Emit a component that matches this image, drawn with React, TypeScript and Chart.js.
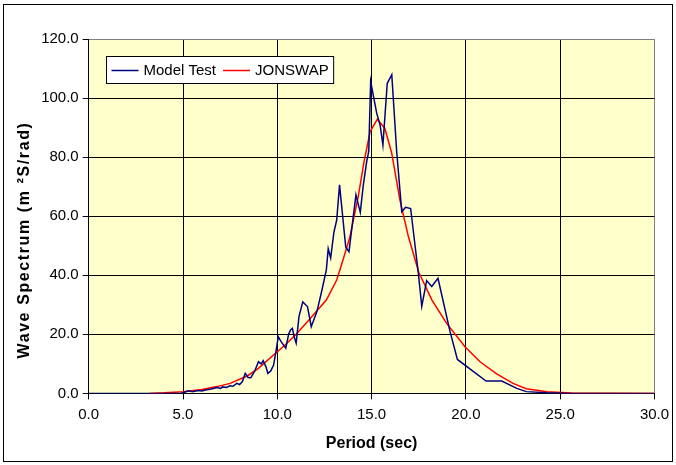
import React, { useEffect, useRef } from "react";
import { Chart, registerables } from "chart.js";

Chart.register(...registerables);

// Measured wave spectrum (model test) — period in seconds, spectral density in m²s/rad
const modelPeriod = [
  0, 4.9, 5.0, 5.3, 5.5, 5.8, 6.0, 6.25, 6.5, 6.8, 7.0, 7.1, 7.3, 7.5, 7.65, 7.85, 8.0, 8.15,
  8.3, 8.45, 8.6, 8.8, 9.0, 9.15, 9.25, 9.4, 9.5, 9.65, 9.8, 9.95, 10.05, 10.2, 10.45, 10.6,
  10.7, 10.8, 10.9, 11.0, 11.15, 11.35, 11.6, 11.8, 12.1, 12.35, 12.6, 12.7, 12.83, 13.0,
  13.15, 13.3, 13.63, 13.8, 14.17, 14.4, 14.56, 14.74, 14.85, 14.95, 15.27, 15.45, 15.6,
  15.83, 16.07, 16.33, 16.6, 16.8, 17.07, 17.47, 17.66, 17.92, 18.19, 18.52, 19.16, 19.55,
  20.3, 21.07, 21.9, 22.7, 23.2, 24.3, 25.5, 30,
];
const modelSpectrum = [
  0, 0, 0.2, 0.9, 0.6, 1.0, 0.8, 1.2, 1.5, 2.0, 1.7, 2.2, 2.0, 2.6, 2.4, 3.4, 3.0, 4.0,
  6.8, 5.4, 5.3, 7.5, 10.7, 10.0, 11.1, 9.0, 6.8, 7.6, 9.5, 15.0, 19.2, 17.5, 15.3, 20.0,
  21.5, 22.0, 19.0, 17.0, 26.0, 31.0, 29.4, 22.6, 27.7, 34.5, 41.8, 49.0, 45.8, 54.5,
  58.7, 70.6, 49.5, 48.0, 67.2, 61.3, 70.5, 78.5, 82.0, 105.6, 94.9, 90.9, 84.1,
  105.0, 107.9, 81.9, 61.5, 63.0, 62.6, 41.2, 29.5, 38.2, 36.2, 39.0, 20.9, 11.5,
  7.9, 4.2, 4.2, 1.7, 0.6, 0.2, 0, 0,
];

// Fitted JONSWAP spectrum
const jonswapPeriod = [
  3.2, 4.0, 5.0, 6.0, 6.8, 7.5, 8.4, 9.0, 9.8, 10.4, 11.0, 11.7, 12.6, 13.15, 13.45, 13.85,
  14.3, 14.6, 14.92, 15.3, 15.7, 16.07, 16.5, 16.95, 17.5, 18.2, 18.98, 19.95, 20.75, 21.63,
  22.5, 23.2, 24.3, 25.6, 30,
];
const jonswapSpectrum = [
  0, 0.2, 0.6, 1.3, 2.3, 3.4, 5.9, 8.5, 13.0, 16.3, 20.0, 25.0, 31.6, 38.4, 44.5, 53.0,
  67.0, 78.5, 88.6, 92.8, 89.8, 81.3, 65.5, 53.1, 41.0, 31.6, 23.7, 15.8, 10.7, 6.6,
  3.4, 1.6, 0.6, 0.15, 0,
];

const seriesNames = ["Model Test", "JONSWAP"];
const seriesColors = ["#000080", "#FF0000"];

const xTitle = "Period (sec)";
const yTitle = "Wave Spectrum (m \u00B2S/rad)";

const FONT = "'Liberation Sans', Arial, sans-serif";

const toPoints = (xs: number[], ys: number[]) => xs.map((x, i) => ({ x, y: ys[i] }));

// Pale yellow plot area plus the outer frame of the whole chart
const frameAndBackground = {
  id: "frameAndBackground",
  beforeDraw(chart: any) {
    const { ctx, chartArea } = chart;
    ctx.save();
    ctx.fillStyle = "#FFFFFF";
    ctx.fillRect(0, 0, chart.width, chart.height);
    ctx.fillStyle = "#FFFFCC";
    ctx.fillRect(chartArea.left, chartArea.top, chartArea.right - chartArea.left, chartArea.bottom - chartArea.top);
    ctx.strokeStyle = "#000000";
    ctx.lineWidth = 1;
    ctx.strokeRect(3.5, 4.5, 669, 457);
    ctx.restore();
  },
};

// Rotated y-axis title and the boxed legend inside the plot
const annotations = {
  id: "annotations",
  afterDraw(chart: any) {
    const { ctx } = chart;
    ctx.save();
    ctx.fillStyle = "#000000";
    ctx.font = `bold 16px ${FONT}`;
    (ctx as any).letterSpacing = "1.6px";
    ctx.textAlign = "center";
    ctx.textBaseline = "middle";
    ctx.translate(25, 240);
    ctx.rotate(-Math.PI / 2);
    ctx.fillText(yTitle, 0, 0);
    ctx.restore();

    ctx.save();
    ctx.font = `15px ${FONT}`;
    const boxX = 106.5;
    const boxY = 56.5;
    const lineLen = 27;
    const items = chart.data.datasets.map((d: any) => ({
      label: d.label,
      color: d.borderColor,
      w: ctx.measureText(d.label).width,
    }));
    let width = 5;
    items.forEach((it: any, i: number) => {
      width += lineLen + 5 + it.w + (i < items.length - 1 ? 7 : 5);
    });
    ctx.fillStyle = "#FFFFFF";
    ctx.fillRect(boxX, boxY, width, 27);
    ctx.strokeStyle = "#000000";
    ctx.lineWidth = 1;
    ctx.strokeRect(boxX, boxY, width, 27);
    let x = boxX + 5;
    const cy = boxY + 14;
    items.forEach((it: any) => {
      ctx.strokeStyle = it.color;
      ctx.lineWidth = 1.5;
      ctx.beginPath();
      ctx.moveTo(x, cy);
      ctx.lineTo(x + lineLen, cy);
      ctx.stroke();
      x += lineLen + 5;
      ctx.fillStyle = "#000000";
      ctx.textAlign = "left";
      ctx.textBaseline = "middle";
      ctx.fillText(it.label, x, cy);
      x += it.w + 7;
    });
    ctx.restore();
  },
};

export default function App() {
  const canvasRef = useRef<HTMLCanvasElement | null>(null);

  useEffect(() => {
    document.body.style.margin = "0";
    const canvas = canvasRef.current;
    if (!canvas) return;

    const chart = new Chart(canvas, {
      type: "line",
      data: {
        datasets: [
          {
            label: seriesNames[0],
            data: toPoints(modelPeriod, modelSpectrum),
            borderColor: seriesColors[0],
            backgroundColor: seriesColors[0],
            borderWidth: 1.5,
            pointRadius: 0,
            tension: 0,
          },
          {
            label: seriesNames[1],
            data: toPoints(jonswapPeriod, jonswapSpectrum),
            borderColor: seriesColors[1],
            backgroundColor: seriesColors[1],
            borderWidth: 1.5,
            pointRadius: 0,
            tension: 0,
          },
        ],
      },
      options: {
        responsive: false,
        animation: false,
        devicePixelRatio: 1,
        layout: { padding: { left: 0, right: 21.5, top: 39, bottom: 0 } },
        plugins: {
          legend: { display: false },
          tooltip: { enabled: false },
        },
        scales: {
          x: {
            type: "linear",
            min: 0,
            max: 30,
            afterFit: (s: any) => {
              s.height = 71.6;
            },
            ticks: {
              stepSize: 5,
              color: "#000000",
              font: { family: FONT, size: 15 },
              padding: 6,
              maxRotation: 0,
              callback: (v: any) => Number(v).toFixed(1),
            },
            grid: {
              color: (c: any) => (c.tick && c.tick.value === 30 ? "#808080" : "#000000"),
              lineWidth: 1,
              drawTicks: true,
              tickLength: 6,
              tickColor: "#000000",
            },
            border: { color: "#000000", width: 1 },
            title: {
              display: true,
              text: xTitle,
              color: "#000000",
              font: { family: FONT, size: 16, weight: "bold" },
              padding: { top: 0, bottom: 12 },
            },
          },
          y: {
            type: "linear",
            min: 0,
            max: 120,
            afterFit: (s: any) => {
              s.width = 88.7;
            },
            ticks: {
              stepSize: 20,
              color: "#000000",
              font: { family: FONT, size: 15 },
              padding: 4,
              callback: (v: any) => Number(v).toFixed(1),
            },
            grid: {
              color: (c: any) => (c.tick && c.tick.value === 120 ? "#808080" : "#000000"),
              lineWidth: 1,
              drawTicks: true,
              tickLength: 6,
              tickColor: "#000000",
            },
            border: { color: "#000000", width: 1 },
          },
        },
      },
      plugins: [frameAndBackground, annotations],
    });

    return () => chart.destroy();
  }, []);

  return (
    <div style={{ width: 676, height: 465 }}>
      <canvas ref={canvasRef} width={676} height={465} style={{ display: "block" }} />
    </div>
  );
}
